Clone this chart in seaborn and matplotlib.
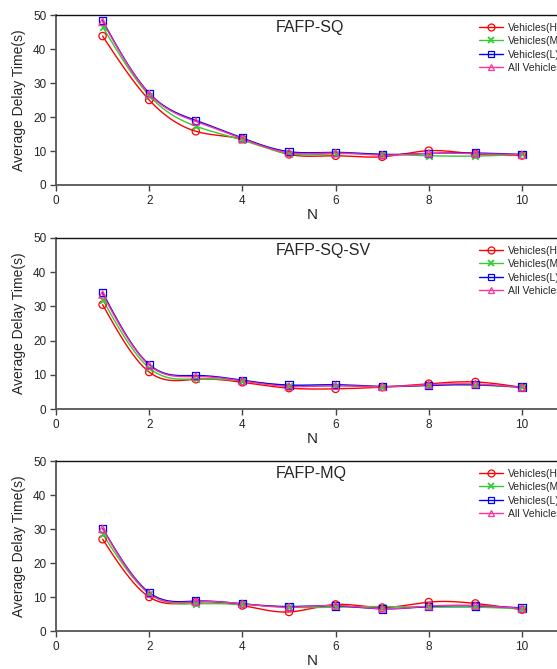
import numpy as np
import pandas as pd
import matplotlib
matplotlib.use("Agg")
import matplotlib.pyplot as plt
from matplotlib.lines import Line2D
import seaborn as sns

N = [1, 2, 3, 4, 5, 6, 7, 8, 9, 10]
series_names = ["Vehicles(H)", "Vehicles(M)", "Vehicles(L)", "All Vehicles"]

sq_H = [43.8, 25.0, 15.8, 13.5, 9.0, 8.6, 8.3, 10.1, 9.1, 8.7]
sq_M = [46.5, 26.3, 17.3, 13.2, 9.2, 9.2, 9.0, 8.6, 8.5, 9.0]
sq_L = [48.3, 27.0, 19.0, 13.8, 9.8, 9.6, 9.0, 9.3, 9.4, 9.0]
sq_A = [48.0, 26.8, 18.7, 13.6, 9.5, 9.4, 8.8, 9.3, 9.2, 8.9]

sv_H = [30.5, 10.8, 8.7, 7.8, 6.1, 5.9, 6.4, 7.4, 7.9, 6.3]
sv_M = [32.0, 12.0, 8.8, 8.2, 6.8, 6.8, 6.5, 7.0, 7.0, 6.3]
sv_L = [34.0, 13.0, 9.8, 8.4, 7.0, 7.1, 6.6, 6.9, 7.1, 6.4]
sv_A = [33.5, 12.8, 9.5, 8.2, 6.6, 6.8, 6.5, 7.1, 7.3, 6.3]

mq_H = [27.0, 10.0, 8.5, 7.5, 5.6, 7.8, 6.9, 8.5, 8.1, 6.3]
mq_M = [28.5, 11.0, 8.0, 7.8, 7.0, 7.0, 7.2, 7.0, 7.0, 6.5]
mq_L = [30.2, 11.3, 8.8, 8.0, 7.2, 7.4, 6.5, 7.2, 7.4, 6.8]
mq_A = [30.0, 11.0, 8.6, 8.0, 7.0, 7.5, 6.6, 7.3, 7.5, 6.6]

panels = [
    ("FAFP-SQ", [sq_H, sq_M, sq_L, sq_A]),
    ("FAFP-SQ-SV", [sv_H, sv_M, sv_L, sv_A]),
    ("FAFP-MQ", [mq_H, mq_M, mq_L, mq_A]),
]

colors = ["#ff0000", "#33cc33", "#0000ff", "#ff3399"]
markers = ["o", "x", "s", "^"]


def natural_spline(x, y, xs):
    x = np.asarray(x, float)
    y = np.asarray(y, float)
    n = len(x)
    h = np.diff(x)
    A = np.zeros((n, n))
    b = np.zeros(n)
    A[0, 0] = 1
    A[-1, -1] = 1
    for i in range(1, n - 1):
        A[i, i - 1] = h[i - 1]
        A[i, i] = 2 * (h[i - 1] + h[i])
        A[i, i + 1] = h[i]
        b[i] = 6 * ((y[i + 1] - y[i]) / h[i] - (y[i] - y[i - 1]) / h[i - 1])
    M = np.linalg.solve(A, b)
    out = np.empty_like(xs)
    for k, t in enumerate(xs):
        i = min(max(np.searchsorted(x, t) - 1, 0), n - 2)
        a = x[i + 1] - t
        c = t - x[i]
        out[k] = (M[i] * a ** 3 / (6 * h[i]) + M[i + 1] * c ** 3 / (6 * h[i])
                  + (y[i] / h[i] - M[i] * h[i] / 6) * a
                  + (y[i + 1] / h[i] - M[i + 1] * h[i] / 6) * c)
    return out


sns.set_style("ticks")
plt.rcParams["font.family"] = ["Liberation Sans", "DejaVu Sans"]

fig = plt.figure(figsize=(5.57, 6.69), dpi=100)
W, H = 557.0, 669.0
left_px = 56
unit_px = 46.6
tops = [15, 238, 461]
bottoms = [185, 409, 631]

for (title, data), top, bot in zip(panels, tops, bottoms):
    ax = fig.add_axes([left_px / W, (H - bot) / H, 11 * unit_px / W, (bot - top) / H])
    xs = np.linspace(1, 10, 300)
    for name, vals, col, mk in zip(series_names, data, colors, markers):
        smooth = pd.DataFrame({"N": xs, "v": natural_spline(N, vals, xs)})
        sns.lineplot(data=smooth, x="N", y="v", color=col, lw=1.0, ax=ax)
        pts = pd.DataFrame({"N": N, "v": vals})
        if mk == "x":
            sns.scatterplot(data=pts, x="N", y="v", marker="x", color=col,
                            s=22, linewidth=1.3, ax=ax, zorder=3)
        else:
            sns.scatterplot(data=pts, x="N", y="v", marker=mk, facecolor="none",
                            edgecolor=col, s=28, linewidth=0.9, ax=ax, zorder=3)
    ax.set_xlim(0, 11)
    ax.set_ylim(0, 50)
    ax.set_xticks([0, 2, 4, 6, 8, 10])
    ax.set_yticks([0, 10, 20, 30, 40, 50])
    ax.tick_params(labelsize=8.5, direction="out", length=4, width=1, color="#444444", pad=3)
    ax.set_xlabel("N", fontsize=11, labelpad=1)
    ax.set_ylabel("Average Delay Time(s)", fontsize=10, labelpad=5)
    for s in ["left", "bottom"]:
        ax.spines[s].set_color("#555555")
        ax.spines[s].set_linewidth(1.3)
    ax.spines["top"].set_color("#111111")
    ax.spines["top"].set_linewidth(1.0)
    ax.spines["right"].set_visible(False)
    ax.text(4.72, 46.2, title, fontsize=11.5, va="center", ha="left")
    handles = []
    for name, col, mk in zip(series_names, colors, markers):
        if mk == "x":
            handles.append(Line2D([0], [0], color=col, lw=1.0, marker="x", markersize=4.5,
                                  markeredgewidth=1.3))
        else:
            handles.append(Line2D([0], [0], color=col, lw=1.0, marker=mk, markersize=5,
                                  markerfacecolor="none", markeredgecolor=col, markeredgewidth=0.9))
    ax.legend(handles, series_names, loc="upper left", bbox_to_anchor=(0.825, 0.955),
              frameon=False, fontsize=7.5, handlelength=2.3, handletextpad=0.5,
              labelspacing=0.33, borderaxespad=0, borderpad=0)

fig.savefig("out.png", dpi=100)
